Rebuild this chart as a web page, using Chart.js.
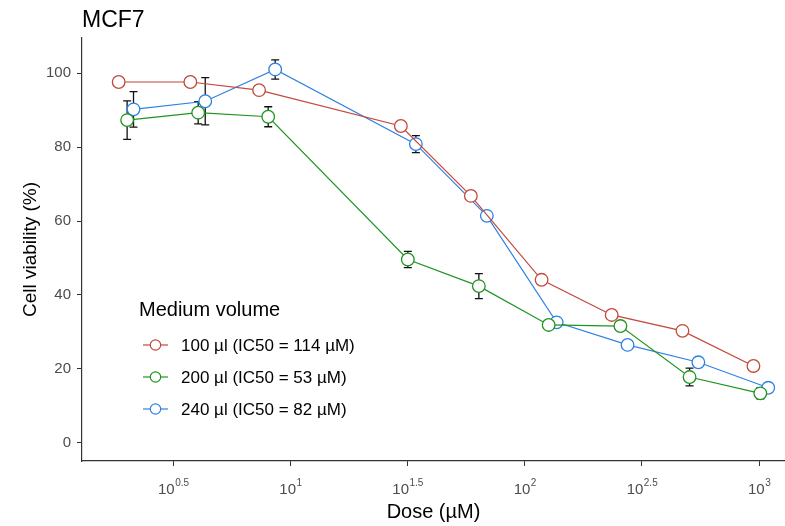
<!DOCTYPE html>
<html>
<head>
<meta charset="utf-8">
<script src="https://cdn.jsdelivr.net/npm/chart.js@4/dist/chart.umd.min.js"></script>
<style>
  body { margin: 0; background: #fff; }
</style>
</head>
<body>
<canvas id="grafico" width="785" height="526"></canvas>
<script>
// Dose (µM) per series, slightly dodged so the error bars don't overlap
const dose100 = [1.85, 3.74, 7.35, 29.6, 58.9, 118, 235, 471, 946];
const dose200 = [2.01, 4.04, 8.04, 31.7, 63.7, 126.5, 256, 505, 1012];
const dose240 = [2.14, 4.33, 8.61, 34.3, 68.9, 136.8, 274.6, 550.6, 1094];

// Cell viability (%) and its error
const viab100 = [97.6, 97.6, 95.4, 85.7, 66.8, 44.1, 34.6, 30.3, 20.8];
const err100  = [0, 0, 0, 0, 0, 0, 0, 0, 0];
const viab200 = [87.3, 89.3, 88.2, 49.6, 42.4, 31.9, 31.6, 17.8, 13.4];
const err200  = [5.2, 3.0, 2.7, 2.2, 3.4, 0.6, 0.6, 2.4, 1.5];
const viab240 = [90.2, 92.4, 101.0, 80.8, 61.4, 32.6, 26.5, 21.8, 14.9];
const err240  = [4.8, 6.4, 2.6, 2.3, 1.0, 0, 0, 0, 0];

const seriesNames = ['100 µl (IC50 = 114 µM)', '200 µl (IC50 = 53 µM)', '240 µl (IC50 = 82 µM)'];
const seriesColors = ['#c4473a', '#1f9420', '#2f80e4'];

const xTickExp = [0.5, 1, 1.5, 2, 2.5, 3];
const yTicks = [0, 20, 40, 60, 80, 100];

const legendTitle = 'Medium volume';
const chartTitle = 'MCF7';

const FONT = '"Liberation Sans", Arial, sans-serif';

function makeSet(i, doses, vals, errs) {
    return {
        label: seriesNames[i],
        data: doses.map((d, k) => ({ x: d, y: vals[k] })),
        errors: errs,
        borderColor: seriesColors[i],
        backgroundColor: '#fff',
        pointBackgroundColor: '#fff',
        pointBorderColor: seriesColors[i],
        pointRadius: 6.3,
        pointBorderWidth: 1.3,
        borderWidth: 1.2,
        tension: 0,
        fill: false,
        clip: false
    };
}

// Error bars, drawn under the points
const errorBars = {
    id: 'errorBars',
    beforeDatasetsDraw(chart) {
        const ctx = chart.ctx;
        const xs = chart.scales.x, ys = chart.scales.y;
        ctx.save();
        ctx.strokeStyle = '#111';
        ctx.lineWidth = 1.3;
        chart.data.datasets.forEach(ds => {
            ds.data.forEach((p, k) => {
                const e = ds.errors[k];
                if (!e) return;
                const x = xs.getPixelForValue(p.x);
                const y1 = ys.getPixelForValue(p.y + e);
                const y2 = ys.getPixelForValue(p.y - e);
                ctx.beginPath();
                ctx.moveTo(x, y1); ctx.lineTo(x, y2);
                ctx.moveTo(x - 4, y1); ctx.lineTo(x + 4, y1);
                ctx.moveTo(x - 4, y2); ctx.lineTo(x + 4, y2);
                ctx.stroke();
            });
        });
        ctx.restore();
    }
};

// Title, power-of-ten tick labels and the legend box
const extras = {
    id: 'extras',
    afterDraw(chart) {
        const ctx = chart.ctx;
        const xs = chart.scales.x;
        const area = chart.chartArea;
        ctx.save();

        ctx.fillStyle = '#000';
        ctx.font = '23px ' + FONT;
        ctx.textBaseline = 'alphabetic';
        ctx.textAlign = 'left';
        ctx.fillText(chartTitle, area.left, 27);

        // 10^k labels
        ctx.fillStyle = '#4d4d4d';
        xTickExp.forEach(k => {
            const x = xs.getPixelForValue(Math.pow(10, k));
            ctx.font = '15px ' + FONT;
            const wb = ctx.measureText('10').width;
            ctx.font = '10px ' + FONT;
            const we = ctx.measureText(String(k)).width;
            const x0 = x - (wb + we) / 2;
            ctx.font = '15px ' + FONT;
            ctx.fillText('10', x0, 494);
            ctx.font = '10px ' + FONT;
            ctx.fillText(String(k), x0 + wb + 0.5, 486);
        });

        // legend
        ctx.fillStyle = '#000';
        ctx.font = '20px ' + FONT;
        ctx.fillText(legendTitle, 139, 316);
        ctx.font = '17px ' + FONT;
        ctx.textBaseline = 'middle';
        seriesNames.forEach((name, i) => {
            const y = 345 + i * 32;
            ctx.strokeStyle = seriesColors[i];
            ctx.lineWidth = 1.2;
            ctx.beginPath();
            ctx.moveTo(143, y); ctx.lineTo(168, y);
            ctx.stroke();
            ctx.beginPath();
            ctx.arc(155.5, y, 5.2, 0, Math.PI * 2);
            ctx.fillStyle = '#fff';
            ctx.fill();
            ctx.stroke();
            ctx.fillStyle = '#000';
            ctx.fillText(name, 181, y + 1);
        });
        ctx.restore();
    }
};

const ctx = document.getElementById('grafico').getContext('2d');
window.grafico = new Chart(ctx, {
    type: 'line',
    data: {
        datasets: [
            makeSet(0, dose100, viab100, err100),
            makeSet(1, dose200, viab200, err200),
            makeSet(2, dose240, viab240, err240)
        ]
    },
    options: {
        responsive: false,
        animation: false,
        layout: { autoPadding: false, padding: { left: 19, right: 0, top: 38, bottom: 0 } },
        plugins: {
            legend: { display: false },
            tooltip: { enabled: false }
        },
        scales: {
            x: {
                type: 'logarithmic',
                min: 1.29,
                max: 1290,
                afterBuildTicks: scale => {
                    scale.ticks = xTickExp.map(k => ({ value: Math.pow(10, k) }));
                },
                afterFit: scale => {
                    scale.height = 65;
                    // no extra room for the (empty) edge labels
                    scale.paddingLeft = 0;
                    scale.paddingRight = 0;
                },
                border: { color: '#333', width: 1.2 },
                grid: { drawOnChartArea: false, drawTicks: true, tickLength: 5, color: '#333' },
                ticks: { callback: () => '', autoSkip: false },
                title: {
                    display: true,
                    text: 'Dose (µM)',
                    color: '#000',
                    font: { size: 20, family: FONT },
                    padding: { top: 0, bottom: 2 }
                }
            },
            y: {
                min: -4.9,
                max: 109.5,
                afterBuildTicks: scale => {
                    scale.ticks = yTicks.map(v => ({ value: v }));
                },
                afterFit: scale => {
                    scale.width = 63;
                    scale.paddingTop = 0;
                    scale.paddingBottom = 0;
                },
                border: { color: '#333', width: 1.2 },
                grid: { drawOnChartArea: false, drawTicks: true, tickLength: 5, color: '#333' },
                ticks: {
                    color: '#4d4d4d',
                    padding: 6,
                    font: { size: 15, family: FONT }
                },
                title: {
                    display: true,
                    text: 'Cell viability (%)',
                    color: '#000',
                    font: { size: 19, family: FONT },
                    padding: { top: 0, bottom: 4 }
                }
            }
        }
    },
    plugins: [errorBars, extras]
});
</script>
</body>
</html>
